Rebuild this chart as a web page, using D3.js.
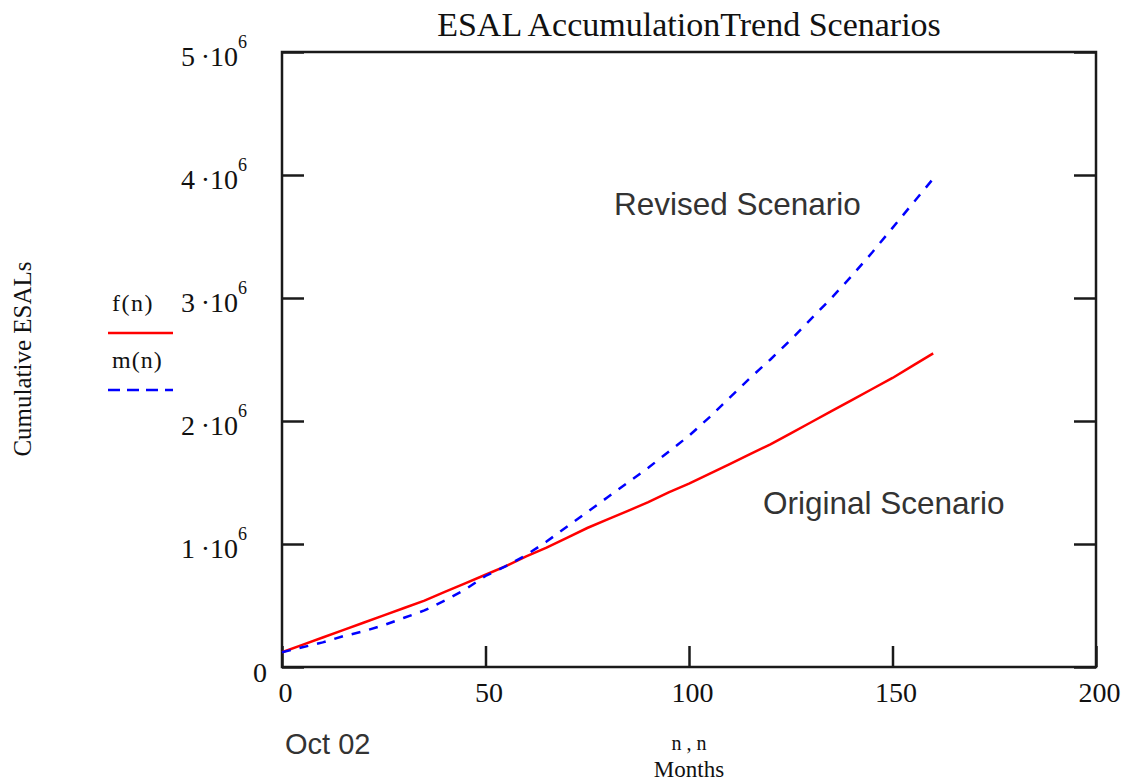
<!DOCTYPE html>
<html>
<head>
<meta charset="utf-8">
<script src="https://cdn.jsdelivr.net/npm/d3@7"></script>
<style>
  body { margin: 0; background: #fff; }
  svg { display: block; }
</style>
</head>
<body>
<div id="chart"></div>
<script>
// months since Oct 02
const months = [0, 5, 10, 15, 20, 25, 30, 35, 40, 45, 50, 55, 60, 65, 70, 75, 80,
                85, 90, 95, 100, 105, 110, 115, 120, 125, 130, 135, 140, 145, 150, 155, 160];
// f(n) - original scenario, millions of ESALs
const original = [0.12, 0.18, 0.24, 0.30, 0.36, 0.42, 0.48, 0.54, 0.61, 0.68, 0.75, 0.82, 0.90,
                  0.97, 1.05, 1.13, 1.20, 1.27, 1.34, 1.42, 1.49, 1.57, 1.65, 1.73, 1.81, 1.90,
                  1.99, 2.08, 2.17, 2.26, 2.35, 2.45, 2.55];
// m(n) - revised scenario, millions of ESALs
const revised = [0.12, 0.16, 0.20, 0.25, 0.29, 0.34, 0.40, 0.46, 0.54, 0.63, 0.74, 0.82, 0.91,
                 1.02, 1.14, 1.26, 1.38, 1.50, 1.62, 1.75, 1.88, 2.03, 2.19, 2.35, 2.50, 2.66,
                 2.83, 3.00, 3.18, 3.37, 3.57, 3.77, 3.97];
const xTicks = [0, 50, 100, 150, 200];
const yTicks = [0, 1, 2, 3, 4, 5]; // x 10^6

const W = 1127, H = 781;
const serif = "'Liberation Serif', 'Times New Roman', serif";
const sans = "'Liberation Sans', Arial, sans-serif";

const svg = d3.select("#chart").append("svg")
  .attr("width", W).attr("height", H);

// 1) scales
const x = d3.scaleLinear().domain([0, 200]).range([282, 1096]);
const y = d3.scaleLinear().domain([0, 5]).range([667, 52]);

// 2) frame
svg.append("rect")
  .attr("x", x(0)).attr("y", y(5))
  .attr("width", x(200) - x(0)).attr("height", y(0) - y(5))
  .attr("fill", "none").attr("stroke", "#1a1a1a").attr("stroke-width", 2.5);

// 3) axes (ticks inward)
const gx = svg.append("g")
  .attr("transform", `translate(0,${y(0)})`)
  .call(d3.axisBottom(x).tickValues(xTicks).tickSizeInner(-21).tickSizeOuter(0));
gx.select(".domain").remove();
gx.selectAll(".tick line").attr("stroke", "#1a1a1a").attr("stroke-width", 2.5);
gx.selectAll(".tick text")
  .attr("y", 35).attr("dy", 0).attr("dx", 3)
  .attr("fill", "#111")
  .style("font-family", serif).style("font-size", "28px");

const gyL = svg.append("g")
  .attr("transform", `translate(${x(0)},0)`)
  .call(d3.axisLeft(y).tickValues(yTicks).tickSizeInner(-22).tickSizeOuter(0).tickFormat(""));
gyL.select(".domain").remove();
gyL.selectAll(".tick line").attr("stroke", "#1a1a1a").attr("stroke-width", 2.5);

const gyR = svg.append("g")
  .attr("transform", `translate(${x(200)},0)`)
  .call(d3.axisRight(y).tickValues(yTicks).tickSizeInner(-22).tickSizeOuter(0).tickFormat(""));
gyR.select(".domain").remove();
gyR.selectAll(".tick line").attr("stroke", "#1a1a1a").attr("stroke-width", 2.5);

// y tick labels in Mathcad "k·10^6" style
yTicks.forEach(v => {
  if (v === 0) {
    svg.append("text")
      .attr("x", 267).attr("y", y(0) + 15)
      .attr("text-anchor", "end")
      .style("font-family", serif).style("font-size", "28px").attr("fill", "#111")
      .text("0");
    return;
  }
  const t = svg.append("text")
    .attr("x", 247).attr("y", y(v) + 14)
    .attr("text-anchor", "end")
    .style("font-family", serif).style("font-size", "28px").attr("fill", "#111");
  t.append("tspan").text(`${v}\u2009\u00b710`);
  t.append("tspan").attr("dy", -18).style("font-size", "18px").text("6");
});

// 4) curves
const line = d3.line()
  .x((d, i) => x(months[i]))
  .y(d => y(d));

svg.append("path")
  .datum(original)
  .attr("d", line)
  .attr("fill", "none").attr("stroke", "#ff0000").attr("stroke-width", 2.5);

svg.append("path")
  .datum(revised)
  .attr("d", line)
  .attr("fill", "none").attr("stroke", "#0000ff").attr("stroke-width", 2.5)
  .attr("stroke-dasharray", "9,9");

// 5) annotations
svg.append("text")
  .attr("x", 614).attr("y", 215)
  .style("font-family", sans).style("font-size", "31.5px").attr("fill", "#333")
  .text("Revised Scenario");

svg.append("text")
  .attr("x", 763).attr("y", 514)
  .style("font-family", sans).style("font-size", "31.5px").attr("fill", "#333")
  .text("Original Scenario");

svg.append("text")
  .attr("x", 285).attr("y", 754)
  .style("font-family", sans).style("font-size", "29px").attr("fill", "#333")
  .text("Oct 02");

// 6) title and axis labels
svg.append("text")
  .attr("x", (x(0) + x(200)) / 2).attr("y", 36)
  .attr("text-anchor", "middle")
  .style("font-family", serif).style("font-size", "34px").attr("fill", "#111")
  .text("ESAL AccumulationTrend Scenarios");

svg.append("text")
  .attr("x", (x(0) + x(200)) / 2).attr("y", 750)
  .attr("text-anchor", "middle")
  .style("font-family", serif).style("font-size", "20px").attr("fill", "#111")
  .text("n , n");

svg.append("text")
  .attr("x", (x(0) + x(200)) / 2).attr("y", 777)
  .attr("text-anchor", "middle")
  .style("font-family", serif).style("font-size", "23px").attr("fill", "#111")
  .text("Months");

svg.append("text")
  .attr("transform", "rotate(-90)")
  .attr("x", -359).attr("y", 31)
  .attr("text-anchor", "middle")
  .style("font-family", serif).style("font-size", "25px").attr("fill", "#111")
  .text("Cumulative ESALs");

// 7) legend
svg.append("text")
  .attr("x", 112).attr("y", 311)
  .style("font-family", serif).style("font-size", "24px").style("letter-spacing", "1.5px").attr("fill", "#111")
  .text("f(n)");
svg.append("line")
  .attr("x1", 108).attr("x2", 173).attr("y1", 333).attr("y2", 333)
  .attr("stroke", "#ff0000").attr("stroke-width", 2.5);
svg.append("text")
  .attr("x", 112).attr("y", 368)
  .style("font-family", serif).style("font-size", "24px").style("letter-spacing", "1px").attr("fill", "#111")
  .text("m(n)");
svg.append("line")
  .attr("x1", 108).attr("x2", 173).attr("y1", 390).attr("y2", 390)
  .attr("stroke", "#0000ff").attr("stroke-width", 2.5)
  .attr("stroke-dasharray", "12,7");
</script>
</body>
</html>
